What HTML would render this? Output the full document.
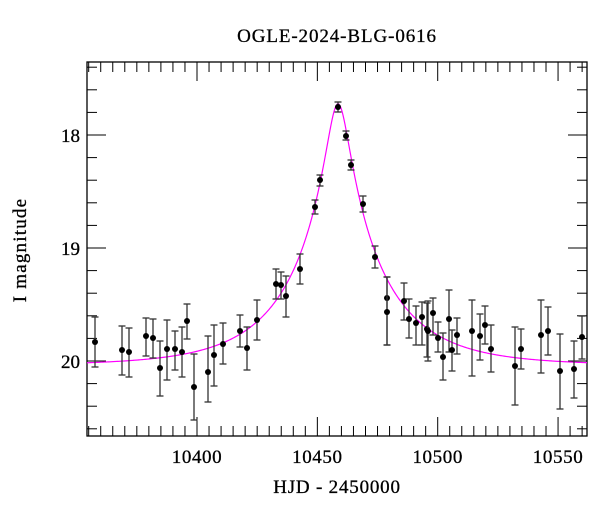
<!DOCTYPE html>
<html><head><meta charset="utf-8"><style>
body{margin:0;background:#fff;}
svg text{font-family:"Liberation Serif",serif;fill:#000;}
</style></head><body>
<svg id="s" width="600" height="512" xmlns="http://www.w3.org/2000/svg">
<rect x="87" y="62" width="500" height="374" fill="none" stroke="#000" stroke-width="1.3"/>
<text x="337" y="42" font-size="19" letter-spacing="0.9" text-anchor="middle" stroke="#000" stroke-width="0.3">OGLE-2024-BLG-0616</text>
<text x="337" y="493" font-size="19" letter-spacing="0.8" text-anchor="middle" stroke="#000" stroke-width="0.3">HJD - 2450000</text>
<text transform="translate(26,250) rotate(-90)" font-size="19" letter-spacing="1.2" text-anchor="middle" stroke="#000" stroke-width="0.3">I magnitude</text>
<g id="g"></g>
</svg>
<script>
var g=document.getElementById('g'),h='';
function X(t){return 197+(t-10400)*2.407;}
function Y(m){return 135+(m-18)*113;}
for(var t=10355;t<=10560;t+=5){var x=X(t),maj=(t%50==0),L=maj?19:10;
h+='<line x1="'+x+'" y1="436" x2="'+x+'" y2="'+(436-L)+'" stroke="#000"/>';
h+='<line x1="'+x+'" y1="62" x2="'+x+'" y2="'+(62+L)+'" stroke="#000"/>';
if(maj)h+='<text x="'+x+'" y="463" font-size="19" letter-spacing="0.6" text-anchor="middle" stroke="#000" stroke-width="0.3">'+t+'</text>';}
for(var i=-3;i<=13;i++){var m=18+i*0.2,y=Y(m);if(y<63||y>435)continue;var maj=(i%5==0),L=maj?19:10;
h+='<line x1="87" y1="'+y+'" x2="'+(87+L)+'" y2="'+y+'" stroke="#000"/>';
h+='<line x1="587" y1="'+y+'" x2="'+(587-L)+'" y2="'+y+'" stroke="#000"/>';
if(maj)h+='<text x="80" y="'+(y+7)+'" font-size="19" text-anchor="end" stroke="#000" stroke-width="0.3">'+Math.round(m)+'</text>';}
var d='';for(var x=87;x<=587;x+=1){var t=10400+(x-197)/2.407,tau=(t-10458.6)/38,u=Math.sqrt(0.119*0.119+tau*tau),A=(u*u+2)/(u*Math.sqrt(u*u+4));var y=Y(20.04-2.5*Math.log10(A));d+=(x==87?'M':'L')+x+' '+y.toFixed(2);}
h+='<path d="'+d+'" fill="none" stroke="#f0f" stroke-width="1.2"/>';
var P=[[95,342,317,367],[122,350,326,375],[129,352,328,377],[146,336,318,356],[153,338,319,358],[160,368,341,396],[167,349,320,380],[175,349,331,370],[182,352,327,377],[187,321,304,339],[194,387,354,420],[208,372,336,402],[214,355,325,386],[223,344,323,364],[240,331,315,347],[247,348,327,370],[257,320,300,340],[276,284,269,299],[281,285,272,299],[286,296,276,317],[300,269,254,284],[315,207,200,214],[320,180,175,186],[338,107,102,112],[346,136,131,140],[351,165,160,170],[363,204,196,212],[375,257,246,268],[387,298,277,345],[387,312,277,345],[404,301,283,320],[409,319,299,338],[416,323,306,345],[422,317,302,345],[427,329,303,357],[428,331,301,361],[433,313,298,335],[438,338,322,352],[443,357,333,380],[449,319,290,352],[452,350,330,371],[457,335,318,354],[472,331,300,376],[480,336,314,360],[485,325,306,344],[491,349,325,372],[515,366,327,405],[521,349,329,369],[541,335,300,373],[548,331,307,355],[560,371,334,409],[574,369,341,398],[582,337,316,359]];
P.forEach(function(p){h+='<line x1="'+p[0]+'" y1="'+p[2]+'" x2="'+p[0]+'" y2="'+p[3]+'" stroke="#333" stroke-width="1.3"/>';
h+='<line x1="'+(p[0]-3.5)+'" y1="'+p[2]+'" x2="'+(p[0]+3.5)+'" y2="'+p[2]+'" stroke="#333" stroke-width="1.3"/>';
h+='<line x1="'+(p[0]-3.5)+'" y1="'+p[3]+'" x2="'+(p[0]+3.5)+'" y2="'+p[3]+'" stroke="#333" stroke-width="1.3"/>';
h+='<circle cx="'+p[0]+'" cy="'+p[1]+'" r="3" fill="#000"/>';});
g.innerHTML=h;
</script>
</body></html>
